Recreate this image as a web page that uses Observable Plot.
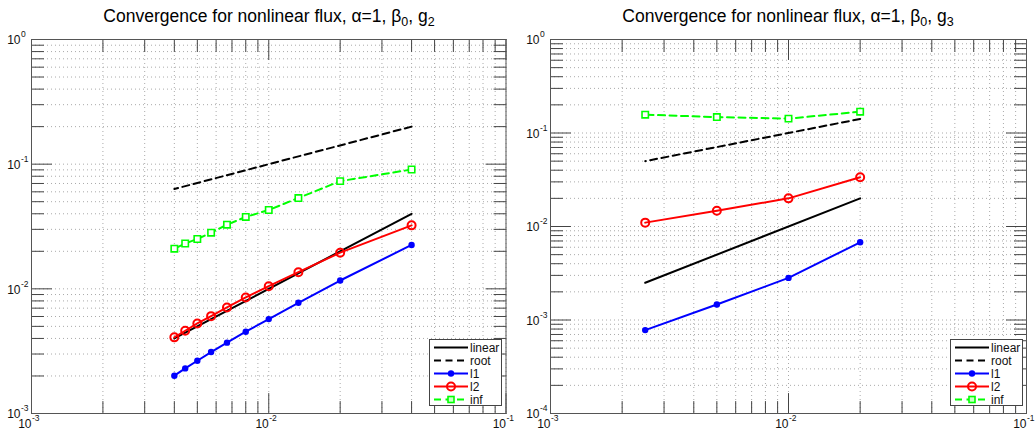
<!DOCTYPE html>
<html>
<head>
<meta charset="utf-8">
<script src="https://cdn.jsdelivr.net/npm/d3@7"></script>
<script src="https://cdn.jsdelivr.net/npm/@observablehq/plot@0.6"></script>
<style>
  body { margin: 0; background: #fff; font-family: "Liberation Sans", Arial, sans-serif; }
  #wrap { position: relative; width: 1036px; height: 431px; overflow: hidden; }
  .panel { position: absolute; top: 0; width: 518px; height: 431px; }
  .title { position: absolute; top: 7px; font-size: 17.5px; line-height: 19px; white-space: nowrap;
           transform: translateX(-50%); color: #000; }
  .title sub { font-size: 12.5px; vertical-align: -4px; line-height: 0; }
  .legend { position: absolute; }
</style>
</head>
<body>
<div id="wrap"></div>
<script>
// ---- mesh sizes and error norms, g2 case ----
const hLeft     = [0.04, 0.02, 0.013333, 0.01, 0.008, 0.0066667, 0.0057143, 0.005, 0.0044444, 0.004];
const l1Left    = [0.0225, 0.01166, 0.00773, 0.00572, 0.00453, 0.00370, 0.00311, 0.00265, 0.00230, 0.00201];
const l2Left    = [0.0323, 0.0195, 0.0136, 0.0105, 0.00853, 0.00709, 0.00604, 0.00528, 0.00461, 0.00408];
const infLeft   = [0.0906, 0.0731, 0.0535, 0.0429, 0.0377, 0.0327, 0.0282, 0.0251, 0.0231, 0.0210];
const hRefLeft    = [0.04, 0.004];
const linearLeft  = [0.04, 0.004];
const rootLeft    = [0.2, 0.0632];

// ---- mesh sizes and error norms, g3 case ----
const hRight    = [0.02, 0.01, 0.005, 0.0025];
const l1Right   = [0.00678, 0.00282, 0.001466, 0.00078];
const l2Right   = [0.0337, 0.0200, 0.01475, 0.0110];
const infRight  = [0.169, 0.1425, 0.148, 0.157];
const hRefRight   = [0.02, 0.0025];
const linearRight = [0.02, 0.0025];
const rootRight   = [0.1414, 0.05];

// ---- axis decades and their exponent labels ----
const xMajor      = [1e-3, 1e-2, 1e-1];
const xExpLabels  = ["-3", "-2", "-1"];
const yMajorLeft  = [1e-3, 1e-2, 1e-1, 1e0];
const yExpLeft    = ["-3", "-2", "-1", "0"];
const yMajorRight = [1e-4, 1e-3, 1e-2, 1e-1, 1e0];
const yExpRight   = ["-4", "-3", "-2", "-1", "0"];

const titles = [
  'Convergence for nonlinear flux, &alpha;=1, &beta;<sub>0</sub>, g<sub>2</sub>',
  'Convergence for nonlinear flux, &alpha;=1, &beta;<sub>0</sub>, g<sub>3</sub>'
];

const FONT = '"Liberation Sans", Arial, sans-serif';
const GREEN = "#00ff00", BLUE = "#0000ff", RED = "#ff0000";

// 1..9 times each decade between the major ticks
function logTicks(majors) {
  const out = [];
  for (let i = 0; i < majors.length - 1; i++)
    for (let m = 1; m < 10; m++) out.push(majors[i] * m);
  out.push(majors[majors.length - 1]);
  return out;
}

// straight tick line drawn from the frame edge inward
const tickShape = { draw(ctx, l) { ctx.moveTo(0, 0); ctx.lineTo(0, -l); } };

function inwardTicks(xTicks, yTicks, xMaj, yMaj) {
  const len = (maj) => (d) => maj.some(m => Math.abs(m - d) / m < 1e-9) ? 5 : 3;
  const common = { stroke: "#444", strokeWidth: 1, shape: tickShape, anchor: "start" };
  return [
    Plot.vector(xTicks, { ...common, x: d => d, frameAnchor: "bottom", rotate: 0, length: len(xMaj) }),
    Plot.vector(xTicks, { ...common, x: d => d, frameAnchor: "top", rotate: 180, length: len(xMaj) }),
    Plot.vector(yTicks, { ...common, y: d => d, frameAnchor: "left", rotate: 90, length: len(yMaj) }),
    Plot.vector(yTicks, { ...common, y: d => d, frameAnchor: "right", rotate: -90, length: len(yMaj) })
  ];
}

function series(h, v) { return h.map((x, i) => ({ h: x, v: v[i] })); }

function panel(cfg) {
  const xTicks = logTicks(xMajor);
  const yTicks = logTicks(cfg.yMajor);
  const grid = { stroke: "#aaaaaa", strokeOpacity: 1, strokeWidth: 1, strokeDasharray: "1,3" };
  const l1 = series(cfg.h, cfg.l1), l2 = series(cfg.h, cfg.l2), inf = series(cfg.h, cfg.inf);
  const lin = series(cfg.hRef, cfg.linear), root = series(cfg.hRef, cfg.root);

  return Plot.plot({
    width: 518, height: 431,
    marginTop: 39, marginBottom: 18, marginLeft: cfg.marginLeft, marginRight: cfg.marginRight,
    x: { type: "log", domain: [1e-3, 1e-1], axis: null },
    y: { type: "log", domain: [cfg.yMajor[0], cfg.yMajor[cfg.yMajor.length - 1]], axis: null },
    style: { fontFamily: FONT, fontSize: "12px", color: "#111", background: "#fff", overflow: "visible" },
    marks: [
      Plot.gridX(xTicks, grid),
      Plot.gridY(yTicks, grid),
      ...inwardTicks(xTicks, yTicks, xMajor, cfg.yMajor),
      Plot.frame({ stroke: "#555", strokeWidth: 1 }),

      // y tick labels: base and raised exponent
      Plot.text(cfg.yMajor, { y: d => d, frameAnchor: "left", text: () => "10", textAnchor: "end",
        dx: -11, dy: 1, fontSize: 12, fill: "#111" }),
      Plot.text(cfg.yMajor, { y: d => d, frameAnchor: "left", text: (d, i) => cfg.yExp[i], textAnchor: "start",
        dx: -10.5, dy: -5, fontSize: 8.5, fill: "#111" }),
      // x tick labels
      Plot.text(xMajor, { x: d => d, frameAnchor: "bottom", text: () => "10", textAnchor: "end",
        dx: 0, dy: 14, fontSize: 12, fill: "#111" }),
      Plot.text(xMajor, { x: d => d, frameAnchor: "bottom", text: (d, i) => xExpLabels[i], textAnchor: "start",
        dx: 0.5, dy: 7, fontSize: 8.5, fill: "#111" }),

      // reference slopes
      Plot.line(lin, { x: "h", y: "v", stroke: "#000", strokeWidth: 2 }),
      Plot.line(root, { x: "h", y: "v", stroke: "#000", strokeWidth: 2, strokeDasharray: "7,4.5" }),
      // error norms
      Plot.line(l1, { x: "h", y: "v", stroke: BLUE, strokeWidth: 2 }),
      Plot.dot(l1, { x: "h", y: "v", fill: BLUE, r: 3.2 }),
      Plot.line(l2, { x: "h", y: "v", stroke: RED, strokeWidth: 2 }),
      Plot.dot(l2, { x: "h", y: "v", stroke: RED, fill: "none", strokeWidth: 2, r: 4 }),
      Plot.line(inf, { x: "h", y: "v", stroke: GREEN, strokeWidth: 2, strokeDasharray: "7,4.5" }),
      Plot.dot(inf, { x: "h", y: "v", symbol: "square", stroke: GREEN, fill: "#fff", strokeWidth: 1.6, r: 3.6 })
    ]
  });
}

// legend box drawn with d3
function legend(left, top) {
  const items = [
    { name: "linear", color: "#000", dash: null, marker: null },
    { name: "root",   color: "#000", dash: "7,4.5", marker: null },
    { name: "l1",     color: BLUE, dash: null, marker: "dot" },
    { name: "l2",     color: RED, dash: null, marker: "ring" },
    { name: "inf",    color: GREEN, dash: "7,4.5", marker: "square" }
  ];
  const w = 72, h = 66;
  const svg = d3.create("svg").attr("width", w + 1).attr("height", h + 1)
    .attr("class", "legend").style("left", left + "px").style("top", top + "px")
    .style("font-family", FONT).style("font-size", "12px");
  svg.append("rect").attr("x", 0.5).attr("y", 0.5).attr("width", w).attr("height", h)
    .attr("fill", "#fff").attr("stroke", "#444");
  const rows = [8.5, 21.5, 34.5, 47.5, 60.5];
  items.forEach((it, i) => {
    const y = rows[i];
    svg.append("line").attr("x1", 5).attr("x2", 39).attr("y1", y).attr("y2", y)
      .attr("stroke", it.color).attr("stroke-width", 2)
      .attr("stroke-dasharray", it.dash);
    if (it.marker === "dot") svg.append("circle").attr("cx", 22).attr("cy", y).attr("r", 3.2).attr("fill", it.color);
    if (it.marker === "ring") svg.append("circle").attr("cx", 22).attr("cy", y).attr("r", 4).attr("fill", "none")
      .attr("stroke", it.color).attr("stroke-width", 2);
    if (it.marker === "square") svg.append("rect").attr("x", 19).attr("y", y - 3).attr("width", 6).attr("height", 6)
      .attr("fill", "#cfc").attr("stroke", it.color).attr("stroke-width", 1.6);
    svg.append("text").attr("x", 41).attr("y", y).attr("dy", "0.35em").attr("fill", "#111").text(it.name);
  });
  return svg.node();
}

const wrap = document.getElementById("wrap");

const configs = [
  { left: 0, titleX: 269, legendX: 429, h: hLeft, l1: l1Left, l2: l2Left, inf: infLeft,
    hRef: hRefLeft, linear: linearLeft, root: rootLeft, yMajor: yMajorLeft, yExp: yExpLeft,
    marginLeft: 31, marginRight: 12.5 },
  { left: 518, titleX: 788, legendX: 950, h: hRight, l1: l1Right, l2: l2Right, inf: infRight,
    hRef: hRefRight, linear: linearRight, root: rootRight, yMajor: yMajorRight, yExp: yExpRight,
    marginLeft: 32, marginRight: 10 }
];

configs.forEach((cfg, k) => {
  const box = document.createElement("div");
  box.className = "panel";
  box.style.left = cfg.left + "px";
  box.appendChild(panel(cfg));
  wrap.appendChild(box);

  const t = document.createElement("div");
  t.className = "title";
  t.style.left = cfg.titleX + "px";
  t.innerHTML = titles[k];
  wrap.appendChild(t);

  wrap.appendChild(legend(cfg.legendX, 339));
});
</script>
</body>
</html>
